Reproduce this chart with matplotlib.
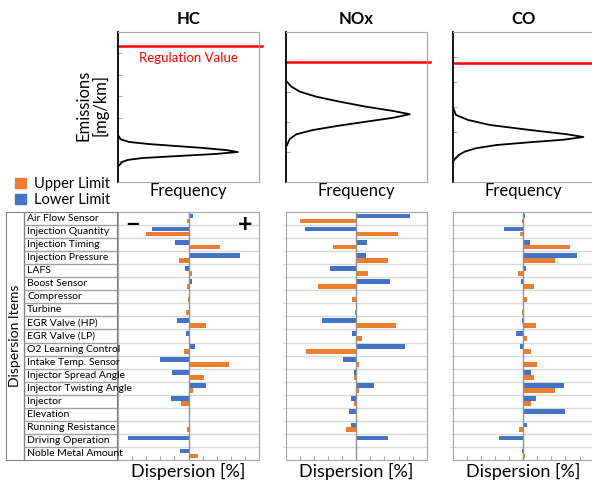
import numpy as np
import matplotlib
matplotlib.use('Agg')
import matplotlib.pyplot as plt
from matplotlib.patches import Patch

plt.rcParams['font.family'] = ['Lato', 'DejaVu Sans']

# ---- data ----
items = ['Air Flow Sensor', 'Injection Quantity', 'Injection Timing', 'Injection Pressure',
         'LAFS', 'Boost Sensor', 'Compressor', 'Turbine', 'EGR Valve (HP)', 'EGR Valve (LP)',
         'O2 Learning Control', 'Intake Temp. Sensor', 'Injector Spread Angle',
         'Injector Twisting Angle', 'Injector', 'Elevation', 'Running Resistance',
         'Driving Operation', 'Noble Metal Amount']

hc_lower = [0.33, -2.6, -0.97, 3.65, -0.26, 0.28, 0, 0, -0.8, -0.17,
            0.45, -2.0, -1.18, 1.23, -1.23, 0, 0.07, -4.3, -0.59]
hc_upper = [-0.14, -3.0, 2.2, -0.66, 0.28, -0.1, -0.07, -0.2, 1.23, 0.14,
            -0.3, 2.84, 1.09, 0.33, -0.54, 0, -0.14, 0, 0.69]

nox_lower = [3.8, -3.62, 0.78, 0.73, -1.84, 2.41, 0, 0, -2.41, -0.31,
             3.43, -0.97, -0.14, 1.23, -0.4, -0.5, -0.35, 2.29, 0]
nox_upper = [-4.0, 2.93, -1.63, 2.27, 0.83, -2.74, -0.31, -0.05, 2.79, 0.4,
             -3.55, 0.21, -0.14, 0.17, -0.14, 0, -0.69, 0, 0]

co_lower = [0.12, -1.38, 0.5, 3.81, 0.19, -0.17, 0, 0, -0.05, -0.48,
            -0.21, 0, 0.55, 2.86, 0.88, 3.0, 0.24, -1.74, -0.07]
co_upper = [-0.1, -0.24, 3.33, 2.24, -0.4, 0.74, 0.24, -0.1, 0.93, 0.29,
            0.55, 0.98, 0.79, 2.24, 0.55, 0, -0.29, 0, 0.1]

# emission distributions (emission level, frequency %)
hc_emis = [2.18, 1.99, 1.87, 1.77, 1.68, 1.59, 1.49, 1.40, 1.31, 1.25, 1.18, 1.12,
           1.03, 0.93, 0.78]
hc_freq = [0, 2, 7.8, 22, 41, 60, 76.6, 85, 69.5, 53, 34, 17.5, 6.9, 2.8, 0.9]
nox_emis = [3.34, 3.18, 3.01, 2.84, 2.68, 2.51, 2.37, 2.26, 2.14, 2.01, 1.88, 1.73,
            1.59, 1.43, 1.23]
nox_freq = [0.9, 4, 10, 22, 38, 57, 76, 88, 76, 57, 38, 19, 7.5, 2.8, 0.9]
co_emis = [2.95, 2.68, 2.48, 2.28, 2.08, 1.91, 1.80, 1.69, 1.59, 1.48, 1.35, 1.21,
           1.08, 0.88]
co_freq = [0.4, 2.3, 11, 26.5, 54.8, 81, 92.7, 78.4, 54.8, 31.1, 16.5, 8.3, 4.3, 1]

hc_reg, nox_reg, co_reg = 6.36, 4.0, 4.76

BLUE = '#4472C4'
ORANGE = '#ED7D31'
GRID = '#d9d9d9'
FRAME = '#a6a6a6'

W, H = 592, 482
fig = plt.figure(figsize=(W / 100, H / 100), dpi=100)


def box(x0, y0, x1, y1):
    return [x0 / W, 1 - y1 / H, (x1 - x0) / W, (y1 - y0) / H]


# ---- top: emission distributions ----
tops = [('HC', 118, hc_emis, hc_freq, hc_reg, 7),
        ('NOx', 285.7, nox_emis, nox_freq, nox_reg, 5),
        ('CO', 452.7, co_emis, co_freq, co_reg, 6)]

for name, x0, emis, freq, reg, ymax in tops:
    ax = fig.add_axes(box(x0, 32, x0 + 141, 182))
    ax.plot(freq, emis, color='black', lw=1.3, solid_joinstyle='round')
    ax.plot([0, 102], [reg, reg], color='red', lw=1.8, clip_on=False)
    ax.set_xlim(0, 100)
    ax.set_ylim(0, ymax)
    ax.set_xticks([])
    ax.set_yticks(range(1, ymax))
    ax.tick_params(axis='y', direction='in', length=3, color=FRAME, labelleft=False)
    for s in ax.spines.values():
        s.set_color(FRAME)
    ax.spines['left'].set_color('black')
    ax.spines['left'].set_linewidth(1.3)
    ax.set_title(name, fontweight='bold', fontsize=12, pad=6)
    ax.set_xlabel('Frequency', fontsize=12, labelpad=1)
    if name == 'HC':
        ax.text(50, 5.79, 'Regulation Value', color='red', fontsize=9.5,
                ha='center', va='center')

fig.text(92 / W, 1 - 105 / H, 'Emissions\n[mg/km]', rotation=90, ha='center',
         va='center', multialignment='center', fontsize=12, linespacing=1.05)

fig.legend(handles=[Patch(color=ORANGE, label='Upper Limit'),
                    Patch(color=BLUE, label='Lower Limit')],
           loc='upper left', bbox_to_anchor=(8 / W, 1 - 170 / H), frameon=False,
           handlelength=0.7, handleheight=0.7, fontsize=10.5, labelspacing=0.15,
           handletextpad=0.6, borderpad=0)

# ---- bottom: dispersion bars ----
rows = np.arange(len(items))
bounds = np.arange(0.5, len(items) - 1, 1)

for x0, lower, upper in [(118, hc_lower, hc_upper), (285.7, nox_lower, nox_upper),
                         (452.7, co_lower, co_upper)]:
    ax = fig.add_axes(box(x0, 212, x0 + 141, 460))
    for b in bounds:
        ax.axhline(b, color=GRID, lw=1, zorder=0)
    ax.barh(rows - 0.19, lower, height=0.36, color=BLUE, zorder=2)
    ax.barh(rows + 0.19, upper, height=0.36, color=ORANGE, zorder=2)
    ax.axvline(0, color='#909090', lw=1, zorder=3)
    ax.set_xlim(-5, 5)
    ax.set_ylim(len(items) - 0.5, -0.5)
    ax.set_xticks(range(-4, 5))
    ax.tick_params(axis='x', direction='in', length=3, color=FRAME, labelbottom=False)
    ax.set_yticks(bounds)
    ax.tick_params(axis='y', direction='out', length=2, color=GRID, labelleft=False)
    for s in ax.spines.values():
        s.set_color(FRAME)
    ax.set_xlabel('Dispersion [%]', fontsize=13, labelpad=2)
    if x0 == 118:
        ax.text(-3.97, 0.45, '\u2212', fontsize=18, fontweight='bold', ha='center', va='center')
        ax.text(4.0, 0.45, '+', fontsize=18, fontweight='bold', ha='center', va='center')

# ---- label table ----
at = fig.add_axes(box(6, 212, 117, 460))
at.set_xlim(0, 1)
at.set_ylim(len(items) - 0.5, -0.5)
at.set_xticks([])
at.set_yticks([])
for s in at.spines.values():
    s.set_color('#808080')
at.axvline(0.158, color='#808080', lw=1)
at.hlines(bounds, 0.158, 1, color='#a0a0a0', lw=1)
for i, name in enumerate(items):
    at.text(0.19, i, name, va='center', ha='left', fontsize=7.5,
            family=['Liberation Sans Narrow', 'Lato', 'DejaVu Sans'])
at.text(0.079, (len(items) - 1) / 2, 'Dispersion Items', rotation=90, ha='center',
        va='center', fontsize=10)

fig.savefig('out.png', dpi=100)
